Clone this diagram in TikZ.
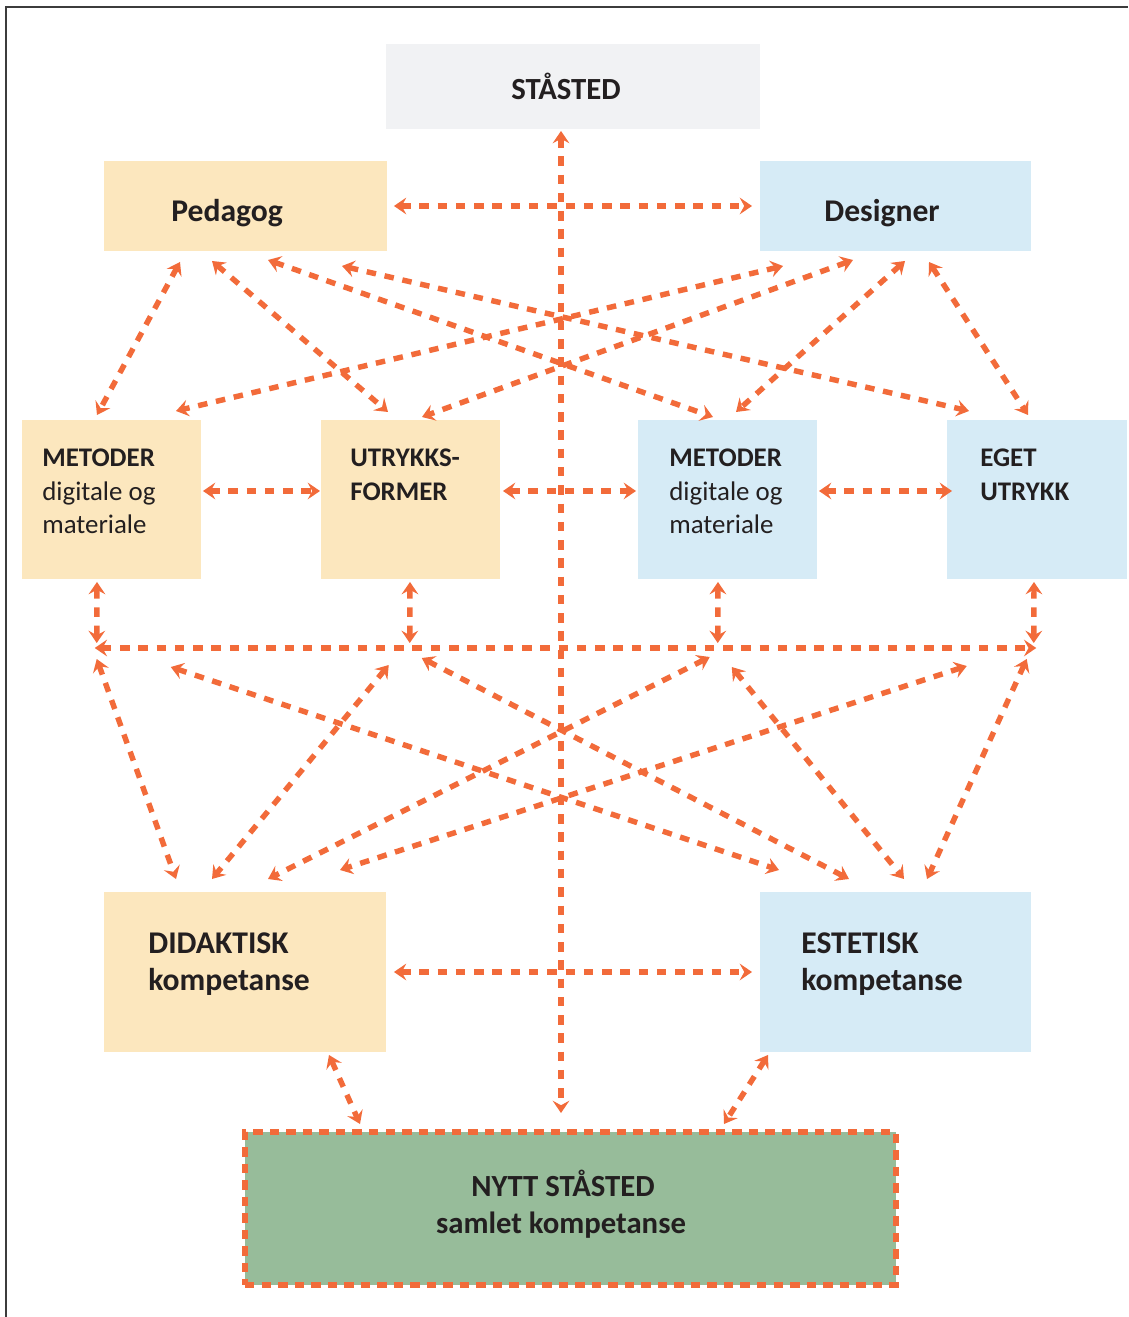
\documentclass[tikz,border=0pt]{standalone}
\usepackage{fontspec}
\setmainfont{Carlito}
\usetikzlibrary{arrows.meta}
\definecolor{ink}{HTML}{231F20}
\definecolor{framegray}{HTML}{3C3C3C}
\definecolor{flow}{HTML}{F26B3A}
\definecolor{peach}{HTML}{FCE7BE}
\definecolor{sky}{HTML}{D6EBF6}
\definecolor{mist}{HTML}{F1F2F4}
\definecolor{sage}{HTML}{97BC9A}
\tikzset{
  >={Stealth[length=7pt,width=9.5pt,inset=2.6pt]},
  every node/.style={text=ink, inner sep=0pt},
  block/.style={rectangle, anchor=north west, outer sep=0pt, draw=none},
  blockP/.style={block, fill=peach},
  blockB/.style={block, fill=sky},
  lead/.style={font=\fontsize{17.5}{21}\selectfont\bfseries},
  headtxt/.style={font=\fontsize{18}{21.5}\selectfont\bfseries},
  bodytxt/.style={font=\fontsize{15.3}{18.8}\selectfont, align=left, anchor=north west},
  link/.style={<->, draw=flow, line width=3.1pt, dash pattern=on 5.4pt off 5pt},
  bus/.style={minimum width=18.82cm, minimum height=0pt}
}

\begin{document}
\begin{tikzpicture}[x=0.02cm, y=-0.02cm]
  \useasboundingbox (0,0) rectangle (1128,1317);
  \draw[framegray, line width=0.9pt] (6,1317) -- (6,7) -- (1128,7);

  % top
  \node[block, fill=mist, minimum width=7.48cm, minimum height=1.7cm] (sta) at (386,44) {};
  \node[lead, anchor=base] (staT) at ([shift={(180,56)}]sta.north west) {STÅSTED};

  \node[blockP, minimum width=5.66cm, minimum height=1.8cm] (ped) at (104,161) {};
  \node[headtxt, anchor=base west] (pedT) at ([shift={(67,61)}]ped.north west) {Pedagog};
  \node[blockB, minimum width=5.42cm, minimum height=1.8cm] (des) at (760,161) {};
  \node[headtxt, anchor=base west] (desT) at ([shift={(64,61)}]des.north west) {Designer};

  % middle row
  \node[blockP, minimum width=3.58cm, minimum height=3.18cm] (mL) at (22,420) {};
  \node[bodytxt] (mLT) at ([shift={(20,29)}]mL.north west) {\textbf{METODER}\\digitale og\\materiale};
  \node[blockP, minimum width=3.58cm, minimum height=3.18cm] (uF) at (321,420) {};
  \node[bodytxt] (uFT) at ([shift={(29,29)}]uF.north west) {\textbf{UTRYKKS-}\\\textbf{FORMER}};
  \node[blockB, minimum width=3.58cm, minimum height=3.18cm] (mR) at (638,420) {};
  \node[bodytxt] (mRT) at ([shift={(31,29)}]mR.north west) {\textbf{METODER}\\digitale og\\materiale};
  \node[blockB, minimum width=3.6cm, minimum height=3.18cm] (eU) at (947,420) {};
  \node[bodytxt] (eUT) at ([shift={(33,29)}]eU.north west) {\textbf{EGET}\\\textbf{UTRYKK}};

  \node[bus] (bus) at (565.5,648) {};

  % competence row
  \node[blockP, minimum width=5.64cm, minimum height=3.2cm] (did) at (104,892) {};
  \node[headtxt, align=left, anchor=north west] (didT) at ([shift={(44,40)}]did.north west) {DIDAKTISK\\kompetanse};
  \node[blockB, minimum width=5.42cm, minimum height=3.2cm] (est) at (760,892) {};
  \node[headtxt, align=left, anchor=north west] (estT) at ([shift={(41,40)}]est.north west) {ESTETISK\\kompetanse};

  \node[block, fill=sage, draw=flow, line width=3.1pt, dash pattern=on 5.4pt off 4pt,
        minimum width=13.02cm, minimum height=3.06cm] (ny) at (245,1132) {};
  \node[lead, anchor=base] (nyA) at ([shift={(318,64)}]ny.north west) {NYTT STÅSTED};
  \node[lead, anchor=base] (nyB) at ([shift={(316,101)}]ny.north west) {samlet kompetanse};

  % straight links
  \draw[link] ([shift={(175,2)}]sta.south west) -- ([shift={(316,-19)}]ny.north west);
  \draw[link] ([shift={(7,0)}]ped.east) -- ([shift={(-8,0)}]des.west);
  \draw[link] ([shift={(2,-8.5)}]mL.east) -- ([shift={(-1,-8.5)}]uF.west);
  \draw[link] ([shift={(3,-8.5)}]uF.east) -- ([shift={(-2,-8.5)}]mR.west);
  \draw[link] ([shift={(2,-8.5)}]mR.east) -- ([shift={(5,-8.5)}]eU.west);
  \draw[link] ([shift={(8,0)}]did.east) -- ([shift={(-8,0)}]est.west);
  \draw[link] ([shift={(225,3)}]did.south west) -- ([shift={(115,-8)}]ny.north west);
  \draw[link] ([shift={(8,3)}]est.south west) -- ([shift={(479,-8)}]ny.north west);

  % upper fan
  \draw[link] ([shift={(76,11)}]ped.south west) -- ([shift={(75,-5)}]mL.north west);
  \draw[link] ([shift={(108,10)}]ped.south west) -- ([shift={(67,-8)}]uF.north west);
  \draw[link] ([shift={(164,9)}]ped.south west) -- ([shift={(75,-3)}]mR.north west);
  \draw[link] ([shift={(238,15)}]ped.south west) -- ([shift={(22,-9)}]eU.north west);
  \draw[link] ([shift={(23,15)}]des.south west) -- ([shift={(154,-9)}]mL.north west);
  \draw[link] ([shift={(93,9)}]des.south west) -- ([shift={(101,-3)}]uF.north west);
  \draw[link] ([shift={(145,10)}]des.south west) -- ([shift={(98,-8)}]mR.north west);
  \draw[link] ([shift={(169,11)}]des.south west) -- ([shift={(81,-5)}]eU.north west);

  % bus
  \draw[link] (bus.west) -- (bus.east);
  \draw[link] ([shift={(75,3)}]mL.south west) -- ([shift={(2,-5)}]bus.west);
  \draw[link] ([shift={(89,3)}]uF.south west) -- ([shift={(315,-5)}]bus.west);
  \draw[link] ([shift={(80,3)}]mR.south west) -- ([shift={(623,-5)}]bus.west);
  \draw[link] ([shift={(87,3)}]eU.south west) -- ([shift={(939,-5)}]bus.west);

  % lower fan
  \draw[link] ([shift={(2,11)}]bus.west) -- ([shift={(72,-13)}]did.north west);
  \draw[link] ([shift={(294,17)}]bus.west) -- ([shift={(108,-13)}]did.north west);
  \draw[link] ([shift={(76,19)}]bus.west) -- ([shift={(19,-22)}]est.north west);
  \draw[link] ([shift={(327,10)}]bus.west) -- ([shift={(89,-13)}]est.north west);
  \draw[link] ([shift={(615,9)}]bus.west) -- ([shift={(164,-13)}]did.north west);
  \draw[link] ([shift={(872,18)}]bus.west) -- ([shift={(236,-22)}]did.north west);
  \draw[link] ([shift={(637,19)}]bus.west) -- ([shift={(144,-13)}]est.north west);
  \draw[link] ([shift={(932,11)}]bus.west) -- ([shift={(167,-13)}]est.north west);
\end{tikzpicture}
\end{document}
